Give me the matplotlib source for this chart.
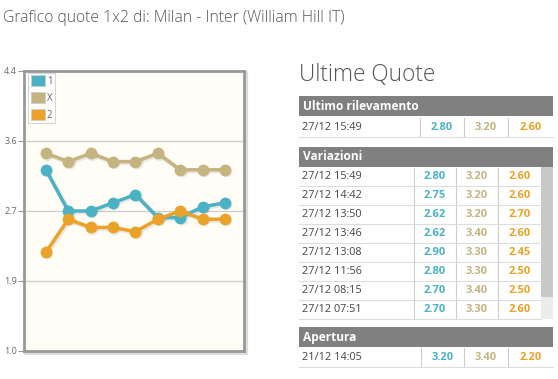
import numpy as np
import matplotlib.pyplot as plt
from matplotlib.patches import Rectangle, Patch

# dati del grafico (ordine cronologico)
quote_1 = [3.20, 2.70, 2.70, 2.80, 2.90, 2.62, 2.62, 2.75, 2.80]
quote_x = [3.40, 3.30, 3.40, 3.30, 3.30, 3.40, 3.20, 3.20, 3.20]
quote_2 = [2.20, 2.60, 2.50, 2.50, 2.45, 2.60, 2.70, 2.60, 2.60]
serie_nomi = ['1', 'X', '2']
y_ticks = [1.0, 1.85, 2.7, 3.55, 4.4]
y_labels = ['1.0', '1.9', '2.7', '3.6', '4.4']

# tabelle
ultimo = ['27/12 15:49', '2.80', '3.20', '2.60']
variazioni_date = ['27/12 15:49', '27/12 14:42', '27/12 13:50', '27/12 13:46',
                   '27/12 13:08', '27/12 11:56', '27/12 08:15', '27/12 07:51']
variazioni_1 = ['2.80', '2.75', '2.62', '2.62', '2.90', '2.80', '2.70', '2.70']
variazioni_x = ['3.20', '3.20', '3.20', '3.40', '3.30', '3.30', '3.40', '3.30']
variazioni_2 = ['2.60', '2.60', '2.70', '2.60', '2.45', '2.50', '2.50', '2.60']
apertura = ['21/12 14:05', '3.20', '3.40', '2.20']

blu = '#4bb2c5'
beige = '#c5b47f'
arancio = '#eaa228'
colori = [blu, beige, arancio]

W, H = 558, 379
plt.rcParams['font.family'] = ['Open Sans', 'DejaVu Sans']
fig = plt.figure(figsize=(W / 100, H / 100), dpi=100)
fig.patch.set_facecolor('white')

# sfondo in pixel per testi e tabelle
bg = fig.add_axes([0, 0, 1, 1])
bg.set_xlim(0, W)
bg.set_ylim(H, 0)
bg.axis('off')

bg.text(3, 18, 'Grafico quote 1x2 di: Milan - Inter (William Hill IT)',
        fontsize=11.3, color='#555555', va='center', ha='left', fontweight='light')

# grafico
left, right, top, bottom = 24, 244, 71, 351
# ombra del bordo
bg.add_patch(Rectangle((left + 2, top + 2), right - left, bottom - top,
                       facecolor='none', edgecolor='#dddddd', lw=3, zorder=1))
ax = fig.add_axes([left / W, 1 - bottom / H, (right - left) / W, (bottom - top) / H])
ax.set_facecolor('#fffdf6')
for s in ax.spines.values():
    s.set_color('#999999')
    s.set_linewidth(2)
ax.set_ylim(1.0, 4.4)
ax.set_xlim(-0.98, 8.85)
ax.set_yticks(y_ticks)
ax.set_yticklabels(y_labels)
ax.set_xticks([])
ax.tick_params(axis='y', length=4, width=0.8, color='#999999', labelsize=6.5,
               labelcolor='#666666', pad=1)
for yv in y_ticks[1:-1]:
    ax.axhline(yv, color='#cccccc', lw=0.9, zorder=1)

xs = np.arange(len(quote_1))
for serie, col in zip([quote_x, quote_1, quote_2], [beige, blu, arancio]):
    ax.plot(xs + 0.06, np.array(serie) - 0.015, color='#000000', alpha=0.08, lw=3.5,
            marker='o', ms=8.5, mew=0, zorder=2)
    ax.plot(xs, serie, color=col, lw=2.5, marker='o', ms=8.5, mew=0, zorder=3)

handles = [Patch(facecolor=c, edgecolor='#cccccc', lw=0.6) for c in colori]
leg = ax.legend(handles, serie_nomi, loc='upper left', bbox_to_anchor=(0.02, 0.993),
                fontsize=7, frameon=True, fancybox=False, handlelength=1.5,
                handleheight=1.3, handletextpad=0.15, labelspacing=0.55,
                borderpad=0.25, borderaxespad=0.0, labelcolor='#666666')
leg.get_frame().set_edgecolor('#cccccc')
leg.get_frame().set_linewidth(0.8)

# tabelle a destra
bg.text(299, 75, 'Ultime Quote', fontsize=16.3, color='#555555', va='center',
        ha='left', fontweight='light')

x0, x1 = 299, 553
header_col = '#808080'
riga_h = 19


def header(y_top, testo, xr=x1):
    bg.add_patch(Rectangle((x0, y_top), xr - x0, 20, facecolor=header_col, edgecolor='none'))
    bg.text(x0 + 4, y_top + 10, testo, color='white', fontsize=8.6, fontweight='bold',
            va='center', ha='left')


def riga(y_top, valori, seps, xr, h=riga_h):
    cy = y_top + h / 2
    bg.plot([x0, xr], [y_top + h, y_top + h], color='#dddddd', lw=0.8)
    for sx in seps:
        bg.plot([sx, sx], [y_top + 1, y_top + h - 1], color='#cccccc', lw=0.8)
    bg.text(x0 + 3, cy, valori[0], fontsize=7.8, color='#444444', va='center', ha='left')
    bordi = list(seps) + [xr]
    for k in range(3):
        cx = (bordi[k] + bordi[k + 1]) / 2
        bg.text(cx, cy, valori[k + 1], fontsize=8, color=colori[k], fontweight='bold',
                va='center', ha='center')


header(96, 'Ultimo rilevamento')
riga(117, ultimo, [420, 464, 508], 553, h=20)

header(147, 'Variazioni')
# barra di scorrimento
bg.add_patch(Rectangle((541, 167), 12, 152, facecolor='#ececec', edgecolor='none'))
bg.add_patch(Rectangle((541, 167), 12, 130, facecolor='#c8c8c8', edgecolor='none'))
for i in range(len(variazioni_date)):
    riga(167 + i * riga_h,
         [variazioni_date[i], variazioni_1[i], variazioni_x[i], variazioni_2[i]],
         [414, 456, 498], 541)

header(327, 'Apertura')
riga(347, apertura, [421, 464, 508], 553, h=20)

fig.savefig('out.png', dpi=100, facecolor='white')
